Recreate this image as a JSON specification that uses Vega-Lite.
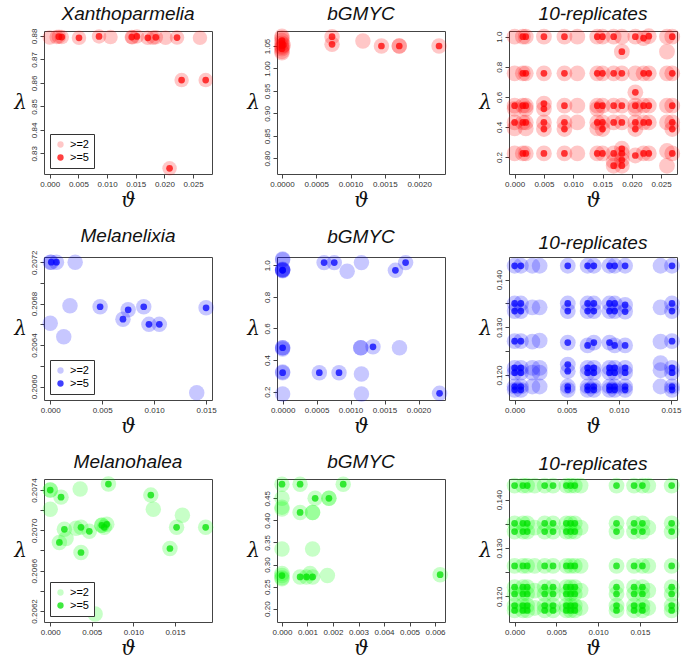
{
"$schema":"https://vega.github.io/schema/vega-lite/v6.json",
"padding":{"left":13,"top":4,"right":0,"bottom":0},
"columns":3,
"spacing":{"row":15,"column":29},
"resolve":{"scale":{"color":"independent"},"legend":{"color":"independent"}},
"config":{
 "font":"Liberation Sans",
 "view":{"stroke":"#444","strokeWidth":1},
 "title":{"fontSize":19,"fontStyle":"italic","fontWeight":"normal","font":"Liberation Sans","offset":4,"frame":"group","anchor":"middle","color":"#111"},
 "axis":{"domain":false,"grid":false,"tickSize":4,"tickColor":"#444","labelFontSize":8,"labelColor":"#333","labelPadding":2,"titleFont":"DejaVu Serif","titleFontSize":20,"titleFontWeight":"normal","titleFontStyle":"italic","titleColor":"#111"},
 "axisY":{"labelAngle":270,"labelAlign":"center","labelBaseline":"bottom","titleAngle":0,"titlePadding":10,"titleBaseline":"middle","minExtent":14,"maxExtent":14},
 "axisX":{"titlePadding":2},
 "legend":{"orient":"bottom-left","offset":6,"strokeColor":"#333","padding":5,"fillColor":"white","symbolSize":40,"symbolType":"circle","labelFontSize":11,"labelFont":"Liberation Sans","rowPadding":1,"symbolStrokeWidth":0}
},
"datasets":{
"p1":[{"x":0,"y":0.8793,"c":2},{"x":0.0012,"y":0.8795,"c":2},{"x":0.0016,"y":0.8797,"c":5},{"x":0.0021,"y":0.8795,"c":5},{"x":0.0051,"y":0.8792,"c":5},{"x":0.0086,"y":0.8798,"c":5},{"x":0.0106,"y":0.8795,"c":2},{"x":0.0143,"y":0.8795,"c":5},{"x":0.0144,"y":0.8794,"c":2},{"x":0.0152,"y":0.8798,"c":5},{"x":0.0171,"y":0.8792,"c":5},{"x":0.018,"y":0.8792,"c":2},{"x":0.0185,"y":0.8794,"c":5},{"x":0.0202,"y":0.8792,"c":2},{"x":0.0222,"y":0.8793,"c":5},{"x":0.0262,"y":0.8792,"c":2},{"x":0.023,"y":0.8612,"c":5},{"x":0.0272,"y":0.8612,"c":5},{"x":0.0209,"y":0.8236,"c":5}],
"p2":[{"x":0,"y":1.05,"c":5},{"x":0,"y":1.056,"c":5},{"x":0,"y":1.044,"c":5},{"x":0,"y":1.062,"c":5},{"x":0.00002,"y":1.052,"c":5},{"x":0,"y":1.038,"c":2},{"x":0,"y":1.068,"c":2},{"x":0,"y":1.047,"c":2},{"x":0,"y":1.035,"c":2},{"x":0,"y":1.072,"c":2},{"x":0.00073,"y":1.0708,"c":5},{"x":0.00073,"y":1.0537,"c":5},{"x":0.00118,"y":1.061,"c":2},{"x":0.00145,"y":1.05,"c":5},{"x":0.00171,"y":1.05,"c":5},{"x":0.00171,"y":1.05,"c":2},{"x":0.00229,"y":1.05,"c":5}],
"p3":[{"x":0,"y":1.0,"c":2},{"x":0.0014,"y":1.0,"c":5},{"x":0.0019,"y":1.0,"c":5},{"x":0.005,"y":1.0,"c":5},{"x":0.0085,"y":1.0,"c":5},{"x":0.0107,"y":1.0,"c":2},{"x":0.0141,"y":1.0,"c":5},{"x":0.015,"y":1.0,"c":5},{"x":0.0169,"y":1.0,"c":5},{"x":0.0183,"y":1.0,"c":2},{"x":0.0206,"y":1.0,"c":5},{"x":0.022,"y":0.99,"c":5},{"x":0.0229,"y":1.003,"c":5},{"x":0.026,"y":1.0,"c":2},{"x":0.0269,"y":1.0,"c":5},
{"x":0.0183,"y":0.9,"c":5},{"x":0.026,"y":0.9,"c":2},
{"x":0,"y":0.756,"c":2},{"x":0.0014,"y":0.756,"c":5},{"x":0.0019,"y":0.756,"c":5},{"x":0.005,"y":0.756,"c":5},{"x":0.0085,"y":0.756,"c":5},{"x":0.0107,"y":0.756,"c":2},{"x":0.0141,"y":0.756,"c":5},{"x":0.015,"y":0.756,"c":5},{"x":0.0169,"y":0.756,"c":5},{"x":0.0183,"y":0.756,"c":5},{"x":0.0206,"y":0.756,"c":2},{"x":0.022,"y":0.756,"c":5},{"x":0.0229,"y":0.756,"c":5},{"x":0.026,"y":0.756,"c":2},{"x":0.0269,"y":0.756,"c":5},
{"x":0.0206,"y":0.63,"c":5},
{"x":0,"y":0.541,"c":5},{"x":0.0014,"y":0.541,"c":5},{"x":0.0019,"y":0.541,"c":5},{"x":0.005,"y":0.555,"c":5},{"x":0.005,"y":0.52,"c":5},{"x":0.0085,"y":0.541,"c":5},{"x":0.0107,"y":0.541,"c":2},{"x":0.0141,"y":0.541,"c":5},{"x":0.015,"y":0.541,"c":5},{"x":0.0169,"y":0.541,"c":5},{"x":0.0183,"y":0.541,"c":5},{"x":0.0206,"y":0.541,"c":5},{"x":0.022,"y":0.541,"c":5},{"x":0.0229,"y":0.541,"c":5},{"x":0.026,"y":0.541,"c":2},{"x":0.0269,"y":0.541,"c":5},{"x":0,"y":0.52,"c":2},{"x":0.0019,"y":0.52,"c":2},{"x":0.0141,"y":0.52,"c":2},{"x":0.0206,"y":0.52,"c":2},
{"x":0,"y":0.43,"c":5},{"x":0.0014,"y":0.43,"c":5},{"x":0.0019,"y":0.43,"c":5},{"x":0.005,"y":0.43,"c":5},{"x":0.0085,"y":0.43,"c":5},{"x":0.0107,"y":0.43,"c":2},{"x":0.0141,"y":0.43,"c":5},{"x":0.015,"y":0.43,"c":5},{"x":0.0169,"y":0.43,"c":5},{"x":0.0183,"y":0.43,"c":5},{"x":0.0206,"y":0.43,"c":5},{"x":0.022,"y":0.43,"c":5},{"x":0.0229,"y":0.43,"c":5},{"x":0.026,"y":0.43,"c":2},{"x":0.0269,"y":0.43,"c":5},
{"x":0.005,"y":0.386,"c":5},{"x":0.0085,"y":0.386,"c":5},{"x":0.015,"y":0.386,"c":5},{"x":0.0206,"y":0.386,"c":5},{"x":0.0269,"y":0.386,"c":5},{"x":0.0019,"y":0.39,"c":2},{"x":0,"y":0.39,"c":2},{"x":0.0141,"y":0.39,"c":2},
{"x":0,"y":0.224,"c":2},{"x":0.0014,"y":0.224,"c":5},{"x":0.0019,"y":0.224,"c":5},{"x":0.005,"y":0.224,"c":5},{"x":0.0085,"y":0.224,"c":5},{"x":0.0107,"y":0.224,"c":2},{"x":0.0141,"y":0.224,"c":5},{"x":0.015,"y":0.224,"c":5},{"x":0.0169,"y":0.224,"c":5},{"x":0.0183,"y":0.255,"c":5},{"x":0.0183,"y":0.224,"c":5},{"x":0.0206,"y":0.21,"c":5},{"x":0.022,"y":0.224,"c":5},{"x":0.0229,"y":0.224,"c":5},{"x":0.026,"y":0.24,"c":2},{"x":0.0269,"y":0.224,"c":5},
{"x":0.0169,"y":0.142,"c":5},{"x":0.0183,"y":0.142,"c":5},{"x":0.026,"y":0.142,"c":2},{"x":0.0183,"y":0.18,"c":5},{"x":0.0169,"y":0.17,"c":2}],
"p4":[{"x":0.0001,"y":0.2072,"c":5},{"x":0.0006,"y":0.2072,"c":5},{"x":0,"y":0.2072,"c":2},{"x":0.0024,"y":0.2072,"c":2},{"x":0.0019,"y":0.20678,"c":2},{"x":0.0048,"y":0.20677,"c":5},{"x":0,"y":0.20661,"c":2},{"x":0.0013,"y":0.20648,"c":2},{"x":0.007,"y":0.20665,"c":5},{"x":0.0075,"y":0.20674,"c":5},{"x":0.009,"y":0.20677,"c":5},{"x":0.0095,"y":0.2066,"c":5},{"x":0.0105,"y":0.2066,"c":5},{"x":0.015,"y":0.20676,"c":5},{"x":0.0141,"y":0.20594,"c":2}],
"p5":[{"x":0,"y":1.04,"c":2},{"x":0,"y":1.035,"c":2},{"x":0,"y":0.968,"c":5},{"x":0,"y":0.97,"c":5},{"x":0,"y":0.965,"c":2},{"x":0,"y":0.972,"c":2},{"x":0,"y":0.975,"c":2},{"x":0,"y":0.478,"c":5},{"x":0,"y":0.478,"c":2},{"x":0,"y":0.47,"c":2},{"x":0,"y":0.32,"c":5},{"x":0,"y":0.325,"c":2},{"x":0,"y":0.185,"c":2},{"x":0.00061,"y":1.017,"c":5},{"x":0.00076,"y":1.017,"c":5},{"x":0.00095,"y":0.962,"c":2},{"x":0.00116,"y":1.017,"c":2},{"x":0.00166,"y":0.968,"c":5},{"x":0.00181,"y":1.017,"c":5},{"x":0.00115,"y":0.478,"c":2},{"x":0.00115,"y":0.478,"c":2},{"x":0.00133,"y":0.484,"c":5},{"x":0.00172,"y":0.478,"c":2},{"x":0.00054,"y":0.32,"c":5},{"x":0.00083,"y":0.32,"c":5},{"x":0.00116,"y":0.312,"c":2},{"x":0.00116,"y":0.185,"c":2},{"x":0.00231,"y":0.189,"c":5}],
"p6":[{"x":0,"y":0.1429,"c":5},{"x":0.0006,"y":0.1429,"c":5},{"x":0.0051,"y":0.1429,"c":5},{"x":0.007,"y":0.1429,"c":5},{"x":0.0076,"y":0.1429,"c":5},{"x":0.0091,"y":0.1429,"c":5},{"x":0.0096,"y":0.1429,"c":5},{"x":0.0106,"y":0.1429,"c":5},{"x":0.0151,"y":0.1429,"c":5},{"x":0.0017,"y":0.1429,"c":2},{"x":0.0024,"y":0.1429,"c":2},{"x":0.014,"y":0.1429,"c":2},
{"x":0,"y":0.135,"c":5},{"x":0.0006,"y":0.135,"c":5},{"x":0.0051,"y":0.135,"c":5},{"x":0.007,"y":0.135,"c":5},{"x":0.0076,"y":0.135,"c":5},{"x":0.0091,"y":0.135,"c":5},{"x":0.0096,"y":0.135,"c":5},{"x":0.0106,"y":0.1347,"c":5},{"x":0.0151,"y":0.135,"c":5},
{"x":0,"y":0.1334,"c":5},{"x":0.0006,"y":0.1334,"c":5},{"x":0.0051,"y":0.1334,"c":5},{"x":0.007,"y":0.1334,"c":5},{"x":0.0076,"y":0.1334,"c":5},{"x":0.0091,"y":0.1334,"c":5},{"x":0.0096,"y":0.1334,"c":5},{"x":0.0106,"y":0.1333,"c":5},{"x":0.0151,"y":0.1334,"c":5},
{"x":0.0017,"y":0.1342,"c":2},{"x":0.0024,"y":0.1342,"c":2},{"x":0.014,"y":0.1342,"c":2},
{"x":0,"y":0.1271,"c":5},{"x":0.0006,"y":0.1271,"c":5},{"x":0.0051,"y":0.1268,"c":5},{"x":0.0076,"y":0.1268,"c":5},{"x":0.0091,"y":0.1268,"c":5},{"x":0.0151,"y":0.1271,"c":5},{"x":0.007,"y":0.1262,"c":5},{"x":0.0096,"y":0.1262,"c":5},{"x":0.0106,"y":0.1262,"c":5},{"x":0.0017,"y":0.127,"c":2},{"x":0.0024,"y":0.1272,"c":2},{"x":0.014,"y":0.127,"c":2},
{"x":0,"y":0.1215,"c":5},{"x":0.0006,"y":0.1215,"c":5},{"x":0.0051,"y":0.1222,"c":5},{"x":0.007,"y":0.1215,"c":5},{"x":0.0076,"y":0.1215,"c":5},{"x":0.0091,"y":0.1215,"c":5},{"x":0.0096,"y":0.1215,"c":5},{"x":0.0106,"y":0.1215,"c":5},{"x":0.0151,"y":0.1215,"c":5},{"x":0.0017,"y":0.1215,"c":2},{"x":0.0024,"y":0.1215,"c":2},{"x":0.014,"y":0.1225,"c":2},
{"x":0,"y":0.1205,"c":5},{"x":0.0006,"y":0.1205,"c":5},{"x":0.0051,"y":0.1208,"c":5},{"x":0.007,"y":0.1205,"c":5},{"x":0.0076,"y":0.1205,"c":5},{"x":0.0091,"y":0.1205,"c":5},{"x":0.0096,"y":0.1205,"c":5},{"x":0.0106,"y":0.1205,"c":5},{"x":0.0151,"y":0.1205,"c":5},{"x":0.0017,"y":0.1205,"c":2},{"x":0.0024,"y":0.1205,"c":2},{"x":0.014,"y":0.121,"c":2},
{"x":0,"y":0.1176,"c":5},{"x":0.0006,"y":0.1176,"c":5},{"x":0.0051,"y":0.1176,"c":5},{"x":0.007,"y":0.1176,"c":5},{"x":0.0076,"y":0.1176,"c":5},{"x":0.0091,"y":0.1176,"c":5},{"x":0.0096,"y":0.1176,"c":5},{"x":0.0106,"y":0.1176,"c":5},{"x":0.0151,"y":0.1176,"c":5},{"x":0.0017,"y":0.1176,"c":2},{"x":0.0024,"y":0.1176,"c":2},{"x":0.014,"y":0.1176,"c":2},
{"x":0,"y":0.1169,"c":5},{"x":0.0006,"y":0.1169,"c":5},{"x":0.0051,"y":0.1169,"c":5},{"x":0.007,"y":0.1169,"c":5},{"x":0.0076,"y":0.1169,"c":5},{"x":0.0091,"y":0.1169,"c":5},{"x":0.0096,"y":0.1169,"c":5},{"x":0.0106,"y":0.1169,"c":5},{"x":0.0151,"y":0.1169,"c":5}],
"p7":[{"x":0,"y":0.2074,"c":5},{"x":0,"y":0.2074,"c":2},{"x":0.0013,"y":0.20733,"c":5},{"x":0,"y":0.20721,"c":2},{"x":0.0036,"y":0.20741,"c":2},{"x":0.007,"y":0.20746,"c":5},{"x":0.0017,"y":0.20701,"c":5},{"x":0.0011,"y":0.20688,"c":5},{"x":0.0019,"y":0.20692,"c":2},{"x":0.0031,"y":0.20702,"c":2},{"x":0.0037,"y":0.20703,"c":5},{"x":0.0047,"y":0.20699,"c":5},{"x":0.0037,"y":0.20678,"c":5},{"x":0.0062,"y":0.20705,"c":5},{"x":0.0062,"y":0.20705,"c":2},{"x":0.0065,"y":0.20703,"c":5},{"x":0.0068,"y":0.20706,"c":5},{"x":0.0121,"y":0.20735,"c":5},{"x":0.0124,"y":0.20721,"c":2},{"x":0.0159,"y":0.20715,"c":2},{"x":0.0152,"y":0.20703,"c":5},{"x":0.0144,"y":0.20682,"c":5},{"x":0.0187,"y":0.20703,"c":5},{"x":0.0054,"y":0.20617,"c":2}],
"p8":[{"x":0,"y":0.482,"c":5},{"x":0,"y":0.45,"c":2},{"x":0,"y":0.426,"c":2},{"x":0,"y":0.43,"c":2},{"x":0,"y":0.335,"c":2},{"x":0,"y":0.275,"c":5},{"x":0,"y":0.27,"c":2},{"x":0,"y":0.28,"c":2},{"x":0,"y":0.268,"c":2},{"x":0.00071,"y":0.482,"c":5},{"x":0.0013,"y":0.45,"c":5},{"x":0.00184,"y":0.45,"c":5},{"x":0.00184,"y":0.45,"c":2},{"x":0.0024,"y":0.482,"c":5},{"x":0.00071,"y":0.418,"c":5},{"x":0.0012,"y":0.418,"c":2},{"x":0.0012,"y":0.418,"c":2},{"x":0.0012,"y":0.335,"c":2},{"x":0.00071,"y":0.272,"c":5},{"x":0.00096,"y":0.272,"c":5},{"x":0.0012,"y":0.272,"c":5},{"x":0.0011,"y":0.28,"c":2},{"x":0.00178,"y":0.275,"c":2},{"x":0.0062,"y":0.277,"c":5}],
"p9":[{"x":0,"y":0.1429,"c":5},{"x":0.001,"y":0.1429,"c":5},{"x":0.0015,"y":0.1429,"c":5},{"x":0.0036,"y":0.1429,"c":5},{"x":0.0046,"y":0.1429,"c":5},{"x":0.0062,"y":0.1429,"c":5},{"x":0.0067,"y":0.1429,"c":5},{"x":0.0072,"y":0.1429,"c":5},{"x":0.0122,"y":0.1429,"c":5},{"x":0.0143,"y":0.1429,"c":5},{"x":0.0153,"y":0.1429,"c":5},{"x":0.0188,"y":0.1429,"c":5},{"x":0.0024,"y":0.1429,"c":2},{"x":0.0079,"y":0.1429,"c":2},{"x":0.016,"y":0.1429,"c":2},
{"x":0,"y":0.1351,"c":5},{"x":0.001,"y":0.1351,"c":5},{"x":0.0015,"y":0.1351,"c":5},{"x":0.0036,"y":0.1351,"c":5},{"x":0.0046,"y":0.1351,"c":5},{"x":0.0062,"y":0.1351,"c":5},{"x":0.0067,"y":0.1351,"c":5},{"x":0.0072,"y":0.1351,"c":5},{"x":0.0122,"y":0.1351,"c":5},{"x":0.0143,"y":0.1351,"c":5},{"x":0.0153,"y":0.1351,"c":5},{"x":0.0188,"y":0.1351,"c":5},
{"x":0,"y":0.1334,"c":5},{"x":0.001,"y":0.1334,"c":5},{"x":0.0015,"y":0.1334,"c":5},{"x":0.0036,"y":0.1334,"c":5},{"x":0.0046,"y":0.1334,"c":5},{"x":0.0062,"y":0.1334,"c":5},{"x":0.0067,"y":0.1334,"c":5},{"x":0.0072,"y":0.1334,"c":5},{"x":0.0122,"y":0.1334,"c":5},{"x":0.0143,"y":0.1334,"c":5},{"x":0.0153,"y":0.1334,"c":5},{"x":0.0188,"y":0.1334,"c":5},
{"x":0.0024,"y":0.1342,"c":2},{"x":0.0079,"y":0.1342,"c":2},{"x":0.016,"y":0.1342,"c":2},
{"x":0,"y":0.1263,"c":5},{"x":0.001,"y":0.1263,"c":5},{"x":0.0015,"y":0.1263,"c":5},{"x":0.0036,"y":0.1263,"c":5},{"x":0.0046,"y":0.1263,"c":5},{"x":0.0062,"y":0.1263,"c":5},{"x":0.0067,"y":0.1263,"c":5},{"x":0.0072,"y":0.1263,"c":5},{"x":0.0122,"y":0.1263,"c":5},{"x":0.0143,"y":0.1263,"c":5},{"x":0.0153,"y":0.1263,"c":5},{"x":0.0188,"y":0.1263,"c":5},{"x":0.0024,"y":0.1263,"c":2},{"x":0.0079,"y":0.1263,"c":2},{"x":0.016,"y":0.1263,"c":2},
{"x":0,"y":0.1219,"c":5},{"x":0.001,"y":0.1219,"c":5},{"x":0.0015,"y":0.1219,"c":5},{"x":0.0036,"y":0.1219,"c":5},{"x":0.0046,"y":0.1219,"c":5},{"x":0.0062,"y":0.1219,"c":5},{"x":0.0067,"y":0.1219,"c":5},{"x":0.0072,"y":0.1219,"c":5},{"x":0.0122,"y":0.1219,"c":5},{"x":0.0143,"y":0.1219,"c":5},{"x":0.0153,"y":0.1219,"c":5},{"x":0.0188,"y":0.1219,"c":5},
{"x":0,"y":0.1205,"c":5},{"x":0.001,"y":0.1205,"c":5},{"x":0.0015,"y":0.1205,"c":5},{"x":0.0036,"y":0.1205,"c":5},{"x":0.0046,"y":0.1205,"c":5},{"x":0.0062,"y":0.1205,"c":5},{"x":0.0067,"y":0.1205,"c":5},{"x":0.0072,"y":0.1205,"c":5},{"x":0.0122,"y":0.1205,"c":5},{"x":0.0143,"y":0.1205,"c":5},{"x":0.0153,"y":0.1205,"c":5},{"x":0.0188,"y":0.1205,"c":5},{"x":0.0024,"y":0.1212,"c":2},{"x":0.0079,"y":0.1212,"c":2},{"x":0.016,"y":0.1212,"c":2},
{"x":0,"y":0.1181,"c":5},{"x":0.001,"y":0.1181,"c":5},{"x":0.0015,"y":0.1181,"c":5},{"x":0.0036,"y":0.1181,"c":5},{"x":0.0046,"y":0.1181,"c":5},{"x":0.0062,"y":0.1181,"c":5},{"x":0.0067,"y":0.1181,"c":5},{"x":0.0072,"y":0.1181,"c":5},{"x":0.0122,"y":0.1181,"c":5},{"x":0.0143,"y":0.1181,"c":5},{"x":0.0153,"y":0.1181,"c":5},{"x":0.0188,"y":0.1181,"c":5},
{"x":0,"y":0.1171,"c":5},{"x":0.001,"y":0.1171,"c":5},{"x":0.0015,"y":0.1171,"c":5},{"x":0.0036,"y":0.1171,"c":5},{"x":0.0046,"y":0.1171,"c":5},{"x":0.0062,"y":0.1171,"c":5},{"x":0.0067,"y":0.1171,"c":5},{"x":0.0072,"y":0.1171,"c":5},{"x":0.0122,"y":0.1171,"c":5},{"x":0.0143,"y":0.1171,"c":5},{"x":0.0153,"y":0.1171,"c":5},{"x":0.0188,"y":0.1171,"c":5},{"x":0.0024,"y":0.1176,"c":2},{"x":0.0079,"y":0.1176,"c":2},{"x":0.016,"y":0.1176,"c":2}]
},
"concat":[
{"width":168,"height":143,"title":{"text":"Xanthoparmelia","frame":"group","anchor":"middle"},"data":{"name":"p1"},
 "encoding":{"x":{"field":"x","type":"quantitative","scale":{"domain":[-0.001,0.0283],"nice":false,"zero":false},"axis":{"values":[0,0.005,0.01,0.015,0.02,0.025],"format":".3f","title":"ϑ"}},
  "y":{"field":"y","type":"quantitative","scale":{"domain":[0.8212,0.8821],"nice":false,"zero":false},"axis":{"values":[0.83,0.84,0.85,0.86,0.87,0.88],"format":".2f","title":"λ"}}},
 "layer":[
  {"mark":{"type":"circle","size":210,"opacity":1},"encoding":{"color":{"datum":">=2","type":"nominal","scale":{"domain":[">=2",">=5"],"range":["rgba(255,0,0,0.22)","rgba(255,0,0,0.75)"]},"legend":{"title":null}}}},
  {"transform":[{"filter":"datum.c==5"}],"mark":{"type":"circle","size":45,"opacity":1},"encoding":{"color":{"datum":">=5","type":"nominal"}}}
 ]},
{"width":168,"height":143,"title":{"text":"bGMYC","frame":"group","anchor":"middle"},"data":{"name":"p2"},
 "encoding":{"x":{"field":"x","type":"quantitative","scale":{"domain":[-0.0000725,0.002377],"nice":false,"zero":false},"axis":{"values":[0,0.0005,0.001,0.0015,0.002],"format":".4f","title":"ϑ"}},
  "y":{"field":"y","type":"quantitative","scale":{"domain":[0.7651,1.0834],"nice":false,"zero":false},"axis":{"values":[0.8,0.85,0.9,0.95,1.0,1.05],"format":".2f","title":"λ"}}},
 "layer":[
  {"mark":{"type":"circle","size":240,"opacity":1},"encoding":{"color":{"datum":">=2","type":"nominal","scale":{"domain":[">=2",">=5"],"range":["rgba(255,0,0,0.22)","rgba(255,0,0,0.75)"]},"legend":null}}},
  {"transform":[{"filter":"datum.c==5"}],"mark":{"type":"circle","size":45,"opacity":1},"encoding":{"color":{"datum":">=5","type":"nominal","legend":null}}}
 ]},
{"width":168,"height":143,"title":{"text":"10-replicates","frame":"group","anchor":"middle"},"data":{"name":"p3"},
 "encoding":{"x":{"field":"x","type":"quantitative","scale":{"domain":[-0.00096,0.02771],"nice":false,"zero":false},"axis":{"values":[0,0.005,0.01,0.015,0.02,0.025],"format":".3f","title":"ϑ"}},
  "y":{"field":"y","type":"quantitative","scale":{"domain":[0.087,1.0377],"nice":false,"zero":false},"axis":{"values":[0.2,0.4,0.6,0.8,1.0],"format":".1f","title":"λ"}}},
 "layer":[
  {"mark":{"type":"circle","size":250,"opacity":1},"encoding":{"color":{"datum":">=2","type":"nominal","scale":{"domain":[">=2",">=5"],"range":["rgba(255,0,0,0.22)","rgba(255,0,0,0.75)"]},"legend":null}}},
  {"transform":[{"filter":"datum.c==5"}],"mark":{"type":"circle","size":45,"opacity":1},"encoding":{"color":{"datum":">=5","type":"nominal","legend":null}}}
 ]},
{"width":168,"height":143,"title":{"text":"Melanelixia","frame":"group","anchor":"middle"},"data":{"name":"p4"},
 "encoding":{"x":{"field":"x","type":"quantitative","scale":{"domain":[-0.0006,0.01557],"nice":false,"zero":false},"axis":{"values":[0,0.005,0.01,0.015],"format":".3f","title":"ϑ"}},
  "y":{"field":"y","type":"quantitative","scale":{"domain":[0.20587,0.20725],"nice":false,"zero":false},"axis":{"values":[0.206,0.2062,0.2064,0.2066,0.2068,0.207,0.2072],"labelExpr":"round(datum.value*10000) % 4 == 0 ? format(datum.value,'.4f') : ''","title":"λ"}}},
 "layer":[
  {"mark":{"type":"circle","size":240,"opacity":1},"encoding":{"color":{"datum":">=2","type":"nominal","scale":{"domain":[">=2",">=5"],"range":["rgba(0,0,255,0.22)","rgba(0,0,255,0.75)"]},"legend":{"title":null}}}},
  {"transform":[{"filter":"datum.c==5"}],"mark":{"type":"circle","size":45,"opacity":1},"encoding":{"color":{"datum":">=5","type":"nominal"}}}
 ]},
{"width":168,"height":143,"title":{"text":"bGMYC","frame":"group","anchor":"middle"},"data":{"name":"p5"},
 "encoding":{"x":{"field":"x","type":"quantitative","scale":{"domain":[-0.000083,0.00239],"nice":false,"zero":false},"axis":{"values":[0,0.0005,0.001,0.0015,0.002],"format":".4f","title":"ϑ"}},
  "y":{"field":"y","type":"quantitative","scale":{"domain":[0.147,1.0526],"nice":false,"zero":false},"axis":{"values":[0.2,0.4,0.6,0.8,1.0],"format":".1f","title":"λ"}}},
 "layer":[
  {"mark":{"type":"circle","size":240,"opacity":1},"encoding":{"color":{"datum":">=2","type":"nominal","scale":{"domain":[">=2",">=5"],"range":["rgba(0,0,255,0.22)","rgba(0,0,255,0.75)"]},"legend":null}}},
  {"transform":[{"filter":"datum.c==5"}],"mark":{"type":"circle","size":45,"opacity":1},"encoding":{"color":{"datum":">=5","type":"nominal","legend":null}}}
 ]},
{"width":168,"height":143,"title":{"text":"10-replicates","frame":"group","anchor":"middle"},"data":{"name":"p6"},
 "encoding":{"x":{"field":"x","type":"quantitative","scale":{"domain":[-0.00054,0.01558],"nice":false,"zero":false},"axis":{"values":[0,0.005,0.01,0.015],"format":".3f","title":"ϑ"}},
  "y":{"field":"y","type":"quantitative","scale":{"domain":[0.11477,0.14474],"nice":false,"zero":false},"axis":{"values":[0.12,0.125,0.13,0.135,0.14],"labelExpr":"round(datum.value*1000) % 10 == 0 ? format(datum.value,'.3f') : ''","title":"λ"}}},
 "layer":[
  {"mark":{"type":"circle","size":250,"opacity":1},"encoding":{"color":{"datum":">=2","type":"nominal","scale":{"domain":[">=2",">=5"],"range":["rgba(0,0,255,0.22)","rgba(0,0,255,0.75)"]},"legend":null}}},
  {"transform":[{"filter":"datum.c==5"}],"mark":{"type":"circle","size":45,"opacity":1},"encoding":{"color":{"datum":">=5","type":"nominal","legend":null}}}
 ]},
{"width":168,"height":143,"title":{"text":"Melanohalea","frame":"group","anchor":"middle"},"data":{"name":"p7"},
 "encoding":{"x":{"field":"x","type":"quantitative","scale":{"domain":[-0.00075,0.01946],"nice":false,"zero":false},"axis":{"values":[0,0.005,0.01,0.015],"format":".3f","title":"ϑ"}},
  "y":{"field":"y","type":"quantitative","scale":{"domain":[0.20609,0.20751],"nice":false,"zero":false},"axis":{"values":[0.2062,0.2064,0.2066,0.2068,0.207,0.2072,0.2074],"labelExpr":"round(datum.value*10000) % 4 == 2 ? format(datum.value,'.4f') : ''","title":"λ"}}},
 "layer":[
  {"mark":{"type":"circle","size":240,"opacity":1},"encoding":{"color":{"datum":">=2","type":"nominal","scale":{"domain":[">=2",">=5"],"range":["rgba(0,255,0,0.22)","rgba(0,225,0,0.75)"]},"legend":{"title":null}}}},
  {"transform":[{"filter":"datum.c==5"}],"mark":{"type":"circle","size":45,"opacity":1},"encoding":{"color":{"datum":">=5","type":"nominal"}}}
 ]},
{"width":168,"height":143,"title":{"text":"bGMYC","frame":"group","anchor":"middle"},"data":{"name":"p8"},
 "encoding":{"x":{"field":"x","type":"quantitative","scale":{"domain":[-0.000195,0.00639],"nice":false,"zero":false},"axis":{"values":[0,0.001,0.002,0.003,0.004,0.005,0.006],"format":".3f","title":"ϑ"}},
  "y":{"field":"y","type":"quantitative","scale":{"domain":[0.1699,0.4937],"nice":false,"zero":false},"axis":{"values":[0.2,0.25,0.3,0.35,0.4,0.45],"format":".2f","title":"λ"}}},
 "layer":[
  {"mark":{"type":"circle","size":240,"opacity":1},"encoding":{"color":{"datum":">=2","type":"nominal","scale":{"domain":[">=2",">=5"],"range":["rgba(0,255,0,0.22)","rgba(0,225,0,0.75)"]},"legend":null}}},
  {"transform":[{"filter":"datum.c==5"}],"mark":{"type":"circle","size":45,"opacity":1},"encoding":{"color":{"datum":">=5","type":"nominal","legend":null}}}
 ]},
{"width":168,"height":143,"title":{"text":"10-replicates","frame":"group","anchor":"middle"},"data":{"name":"p9"},
 "encoding":{"x":{"field":"x","type":"quantitative","scale":{"domain":[-0.00067,0.01944],"nice":false,"zero":false},"axis":{"values":[0,0.005,0.01,0.015],"format":".3f","title":"ϑ"}},
  "y":{"field":"y","type":"quantitative","scale":{"domain":[0.11471,0.14426],"nice":false,"zero":false},"axis":{"values":[0.12,0.125,0.13,0.135,0.14],"labelExpr":"round(datum.value*1000) % 10 == 0 ? format(datum.value,'.3f') : ''","title":"λ"}}},
 "layer":[
  {"mark":{"type":"circle","size":250,"opacity":1},"encoding":{"color":{"datum":">=2","type":"nominal","scale":{"domain":[">=2",">=5"],"range":["rgba(0,255,0,0.22)","rgba(0,225,0,0.75)"]},"legend":null}}},
  {"transform":[{"filter":"datum.c==5"}],"mark":{"type":"circle","size":45,"opacity":1},"encoding":{"color":{"datum":">=5","type":"nominal","legend":null}}}
 ]}
]
}
